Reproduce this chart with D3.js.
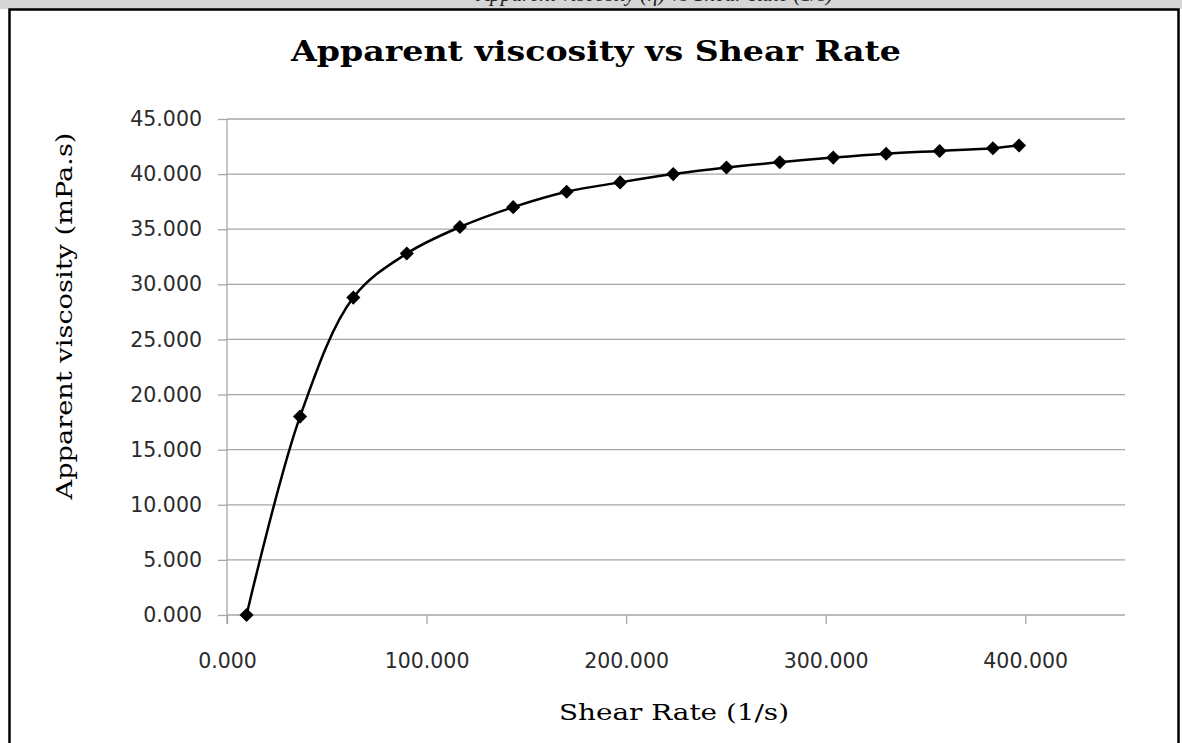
<!DOCTYPE html>
<html><head><meta charset="utf-8">
<script src="https://cdn.jsdelivr.net/npm/d3@7"></script>
<style>body{margin:0;background:#fff;} svg{display:block;}</style>
</head><body>
<script>
const shearRate = [9.8, 36.6, 63.3, 90.1, 116.7, 143.4, 170.2, 197.0, 223.6, 250.3, 277.0, 303.8, 330.3, 357.1, 383.8, 396.9];
const viscosity = [0.0, 18.0, 28.8, 32.8, 35.2, 37.0, 38.4, 39.25, 40.0, 40.6, 41.08, 41.5, 41.85, 42.1, 42.35, 42.6];
const yTicks = [0, 5, 10, 15, 20, 25, 30, 35, 40, 45];
const xTicks = [0, 100, 200, 300, 400];
const title = "Apparent viscosity vs Shear Rate";
const xLabel = "Shear Rate (1/s)";
const yLabel = "Apparent viscosity (mPa.s)";
const caption = "Apparent viscosity (η) vs Shear Rate (1/s)";

const W = 1182, H = 743;
const svg = d3.select("body").append("svg").attr("width", W).attr("height", H);

// top strip (cropped page caption)
svg.append("rect").attr("x",0).attr("y",0).attr("width",W).attr("height",9).attr("fill","#d6d6d6");
svg.append("defs").append("clipPath").attr("id","capclip").append("rect").attr("x",0).attr("y",0).attr("width",W).attr("height",8);
svg.append("text").attr("clip-path","url(#capclip)").attr("x",655).attr("y",1)
  .attr("text-anchor","middle").attr("font-family","Liberation Serif").attr("font-style","italic")
  .attr("font-size",21).attr("fill","#222").attr("textLength",356).attr("lengthAdjust","spacingAndGlyphs")
  .text(caption);

// chart frame
svg.append("rect").attr("x",9.5).attr("y",9.5).attr("width",1169).attr("height",745)
  .attr("fill","#fff").attr("stroke","#000").attr("stroke-width",2.5);

const x = d3.scaleLinear().domain([0,450]).range([227,1125]);
const y = d3.scaleLinear().domain([0,45]).range([615,119]);

// gridlines
svg.append("g").selectAll("line").data(yTicks.filter(d=>d>0)).join("line")
  .attr("x1",x(0)).attr("x2",x(450)).attr("y1",d=>y(d)).attr("y2",d=>y(d))
  .attr("stroke","#a6a6a6").attr("stroke-width",1.3);

const tickFont = "DejaVu Sans";
// y axis
const yAxis = svg.append("g").attr("transform",`translate(${x(0)},0)`)
  .call(d3.axisLeft(y).tickValues(yTicks).tickFormat(d3.format(".3f")).tickSize(9).tickPadding(16));
// x axis
const xAxis = svg.append("g").attr("transform",`translate(0,${y(0)})`)
  .call(d3.axisBottom(x).tickValues(xTicks).tickFormat(d3.format(".3f")).tickSize(9).tickPadding(29));
[yAxis,xAxis].forEach(a=>{
  a.select(".domain").attr("stroke","#a6a6a6").attr("stroke-width",1.3);
  a.selectAll(".tick line").attr("stroke","#a6a6a6").attr("stroke-width",1.3);
  a.selectAll("text").attr("font-family",tickFont).attr("font-size",20.5).attr("fill","#2b2b2b");
});
xAxis.select(".domain").attr("d",`M${x(0)},0V9M${x(0)},0H${x(450)}`);
yAxis.select(".domain").attr("d",`M0,${y(45)}V${y(0)}`);

// line
const pts = shearRate.map((s,i)=>[s,viscosity[i]]);
svg.append("path").datum(pts)
  .attr("d", d3.line().x(d=>x(d[0])).y(d=>y(d[1])).curve(d3.curveCatmullRom.alpha(0.5)))
  .attr("fill","none").attr("stroke","#000").attr("stroke-width",2.5);

// markers
svg.append("g").selectAll("path").data(pts).join("path")
  .attr("transform",d=>`translate(${x(d[0])},${y(d[1])}) rotate(45)`)
  .attr("d", d3.symbol().type(d3.symbolSquare).size(100)).attr("fill","#000");

// title
svg.append("text").attr("x",596).attr("y",61).attr("text-anchor","middle")
  .attr("font-family","DejaVu Serif").attr("font-weight","bold").attr("font-size",28)
  .attr("textLength",610).attr("lengthAdjust","spacingAndGlyphs")
  .attr("fill","#000").text(title);

// axis labels
svg.append("text").attr("x",674).attr("y",720).attr("text-anchor","middle")
  .attr("font-family","DejaVu Serif").attr("font-size",22)
  .attr("textLength",230).attr("lengthAdjust","spacingAndGlyphs")
  .attr("fill","#000").text(xLabel);
svg.append("text").attr("transform","translate(72,316) rotate(-90)").attr("text-anchor","middle")
  .attr("font-family","DejaVu Serif").attr("font-size",22)
  .attr("textLength",367).attr("lengthAdjust","spacingAndGlyphs")
  .attr("fill","#000").text(yLabel);
</script>
</body></html>
